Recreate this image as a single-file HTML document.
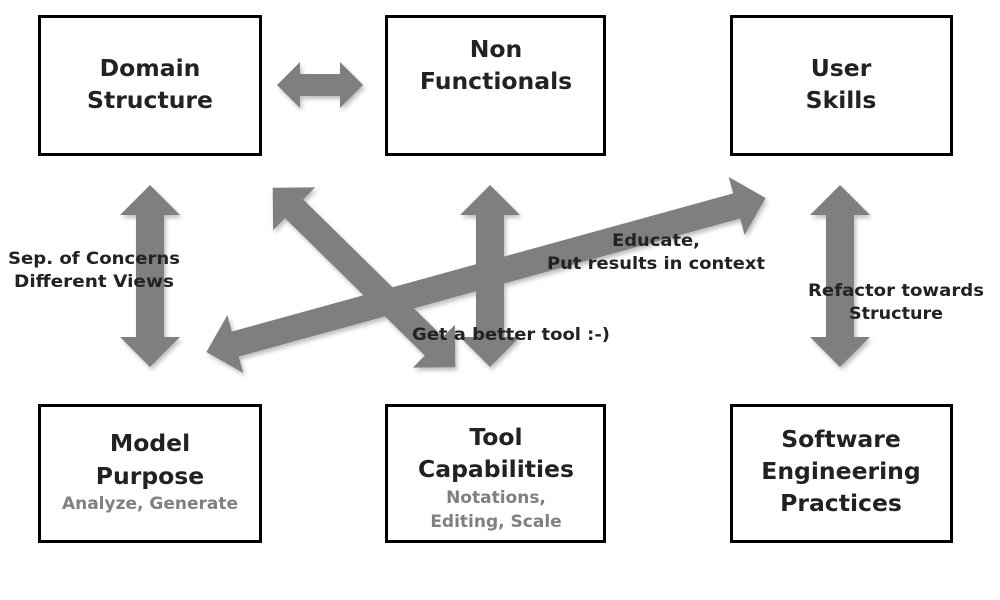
<!DOCTYPE html>
<html><head><meta charset="utf-8"><style>
body{margin:0;background:#fff;}
svg{display:block;}
text{font-family:"DejaVu Sans","Liberation Sans",sans-serif;font-weight:bold;}
</style></head><body>
<svg width="1000" height="600" viewBox="0 0 1000 600" xmlns="http://www.w3.org/2000/svg">
<defs>
<filter id="sh" x="-10%" y="-10%" width="120%" height="130%"><feDropShadow dx="2" dy="3" stdDeviation="2" flood-color="#000" flood-opacity="0.25"/></filter>
</defs>
<g fill="none" stroke="#000" stroke-width="3">
<rect x="39.5" y="16.5" width="221" height="138"/>
<rect x="386.5" y="16.5" width="218" height="138"/>
<rect x="731.5" y="16.5" width="220" height="138"/>
<rect x="39.5" y="405.5" width="221" height="136"/>
<rect x="386.5" y="405.5" width="218" height="136"/>
<rect x="731.5" y="405.5" width="220" height="136"/>
</g>
<g fill="#7f7f7f" filter="url(#sh)">
<polygon transform="translate(320,85)" points="-43,0 -20,-23 -20,-11 20,-11 20,-23 43,0 20,23 20,11 -20,11 -20,23"/>
<polygon transform="translate(150,276) rotate(90)" points="-91,0 -61,-30 -61,-14 61,-14 61,-30 91,0 61,30 61,14 -61,14 -61,30"/>
<polygon transform="translate(490,276) rotate(90)" points="-91,0 -61,-30 -61,-14 61,-14 61,-30 91,0 61,30 61,14 -61,14 -61,30"/>
<polygon transform="translate(840,276) rotate(90)" points="-91,0 -61,-30 -61,-14 61,-14 61,-30 91,0 61,30 61,14 -61,14 -61,30"/>
<polygon transform="translate(364,277.5) rotate(44.5)" points="-128,0 -98,-30 -98,-13 98,-13 98,-30 128,0 98,30 98,13 -98,13 -98,30"/>
<polygon transform="translate(486,275) rotate(-15.4)" points="-290,0 -260,-30 -260,-13 260,-13 260,-30 290,0 260,30 260,13 -260,13 -260,30"/>
</g>
<g fill="#222" font-size="23.5" text-anchor="middle">
<text x="150" y="76">Domain</text><text x="150" y="108">Structure</text>
<text x="496" y="57">Non</text><text x="496" y="89">Functionals</text>
<text x="841" y="76">User</text><text x="841" y="108">Skills</text>
<text x="150" y="451">Model</text><text x="150" y="484">Purpose</text>
<text x="496" y="445">Tool</text><text x="496" y="477">Capabilities</text>
<text x="841" y="447">Software</text><text x="841" y="479">Engineering</text><text x="841" y="511">Practices</text>
</g>
<g fill="#808080" font-size="17" text-anchor="middle">
<text x="150" y="509">Analyze, Generate</text>
<text x="496" y="503">Notations,</text>
<text x="496" y="527">Editing, Scale</text>
</g>
<g fill="#222" font-size="17">
<text x="8" y="264" textLength="172" lengthAdjust="spacingAndGlyphs">Sep. of Concerns</text>
<text x="14" y="287" textLength="160" lengthAdjust="spacingAndGlyphs">Different Views</text>
<text x="612" y="246" textLength="88" lengthAdjust="spacingAndGlyphs">Educate,</text>
<text x="547" y="269" textLength="218" lengthAdjust="spacingAndGlyphs">Put results in context</text>
<text x="412" y="340" textLength="198" lengthAdjust="spacingAndGlyphs">Get a better tool :-)</text>
<text x="808" y="296" textLength="176" lengthAdjust="spacingAndGlyphs">Refactor towards</text>
<text x="849" y="319" textLength="94" lengthAdjust="spacingAndGlyphs">Structure</text>
</g>
</svg>
</body></html>
